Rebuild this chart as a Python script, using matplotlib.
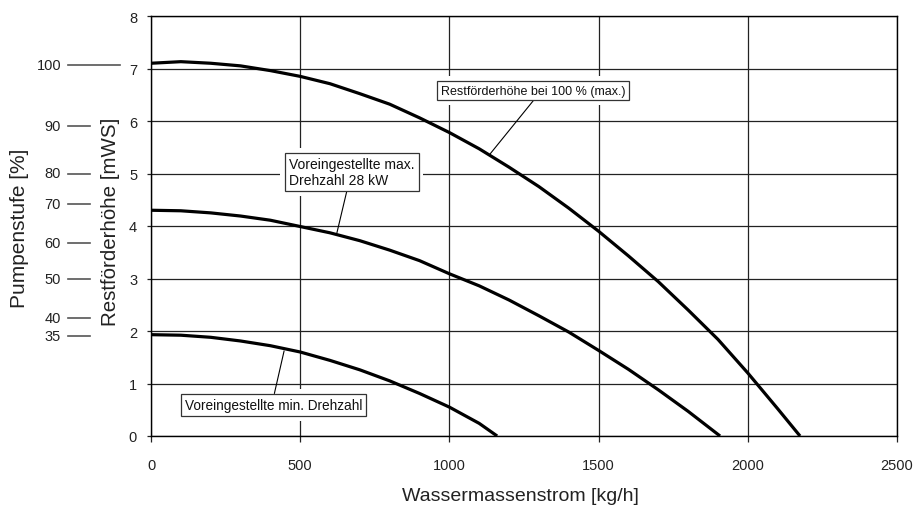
import matplotlib
matplotlib.use("Agg")
import matplotlib.pyplot as plt
import matplotlib.transforms as mtransforms

plt.rcParams['font.family'] = ['Liberation Sans', 'DejaVu Sans']

# Pumpenkennlinien (Wassermassenstrom kg/h, Restförderhöhe mWS)
q_max = [0, 100, 200, 300, 400, 500, 600, 700, 800, 900, 1000, 1100, 1200, 1300, 1400,
         1500, 1600, 1700, 1800, 1900, 2000, 2100, 2175]
h_max = [7.10, 7.13, 7.10, 7.05, 6.96, 6.85, 6.71, 6.52, 6.32, 6.06, 5.78, 5.47, 5.12, 4.75, 4.34,
         3.90, 3.43, 2.94, 2.40, 1.84, 1.20, 0.52, 0.00]

q_28 = [0, 100, 200, 300, 400, 500, 600, 700, 800, 900, 1000, 1100, 1200, 1300, 1400,
        1500, 1600, 1700, 1800, 1907]
h_28 = [4.30, 4.29, 4.25, 4.19, 4.11, 3.99, 3.87, 3.72, 3.54, 3.34, 3.09, 2.86, 2.59, 2.29, 1.98,
        1.63, 1.27, 0.88, 0.47, 0.00]

q_min = [0, 100, 200, 300, 400, 500, 600, 700, 800, 900, 1000, 1100, 1160]
h_min = [1.93, 1.92, 1.88, 1.81, 1.72, 1.60, 1.44, 1.26, 1.05, 0.81, 0.55, 0.24, 0.00]

# Pumpenstufe [%] und zugehoerige Hoehe auf der mWS-Achse
stufe = [100, 90, 80, 70, 60, 50, 40, 35]
stufe_h = [7.07, 5.91, 5.00, 4.42, 3.67, 2.99, 2.24, 1.90]

x_ticks = [0, 500, 1000, 1500, 2000, 2500]
y_ticks = [0, 1, 2, 3, 4, 5, 6, 7, 8]

W, H = 917, 510
fig = plt.figure(figsize=(W / 100, H / 100), dpi=100)
ax = fig.add_axes([151 / W, (H - 437) / H, (897 - 151) / W, (437 - 17) / H])

for q, h in [(q_max, h_max), (q_28, h_28), (q_min, h_min)]:
    ax.plot(q, h, color='black', lw=2.3, solid_capstyle='butt', solid_joinstyle='round', zorder=3)

ax.set_xlim(0, 2500)
ax.set_ylim(0, 8)
ax.set_xticks(x_ticks)
ax.set_yticks(y_ticks)
ax.grid(True, color='#222222', lw=0.9)
ax.set_axisbelow(True)
for s in ax.spines.values():
    s.set_color('black')
    s.set_linewidth(1.0)
ax.tick_params(axis='x', direction='out', length=4.5, width=0.9, pad=11, labelsize=10.5, colors='#222222')
ax.tick_params(axis='y', direction='out', length=3, width=0.9, pad=7, labelsize=10.5, colors='#222222')

fig.text(520 / W, (H - 497) / H, 'Wassermassenstrom [kg/h]', ha='center', va='center',
         fontsize=14, color='#222222')
fig.text(111 / W, (H - 222) / H, 'Restförderhöhe [mWS]', ha='center', va='center',
         rotation=90, fontsize=14.8, color='#222222')
fig.text(20 / W, (H - 228) / H, 'Pumpenstufe [%]', ha='center', va='center',
         rotation=90, fontsize=15, color='#222222')

# Pumpenstufe-Skala links
trans = mtransforms.blended_transform_factory(fig.transFigure, ax.transData)
for p, h in zip(stufe, stufe_h):
    x_end = 120 if p == 100 else 90
    ax.plot([68 / W, x_end / W], [h, h], color='#555555', lw=1.2, transform=trans, clip_on=False)
    ax.text(61 / W, h, str(p), transform=trans, ha='right', va='center', fontsize=10.5, color='#222222')

# Beschriftungen: Text, Position, Kurvenpunkt, Ansatz der Linie, Schriftgroesse, ha
labels = [
    ('Restförderhöhe bei 100 % (max.)', (1280, 6.58), (1136, 5.37), (0.52, 0), 9, 'center'),
    ('Voreingestellte max.\nDrehzahl 28 kW', (462, 5.03), (623, 3.87), (0.47, 0), 10, 'left'),
    ('Voreingestellte min. Drehzahl', (410, 0.59), (446, 1.62), (0.5, 1), 9.8, 'center'),
]
for txt, pos, tip, rel, fs, ha in labels:
    ax.text(pos[0], pos[1], txt, ha=ha, va='center', multialignment='left',
            fontsize=fs, color='white', zorder=4, linespacing=1.15,
            bbox=dict(boxstyle='square,pad=0.65', fc='white', ec='white', lw=0))
    ax.annotate(txt, xy=tip, xytext=pos, ha=ha, va='center', multialignment='left',
                fontsize=fs, color='#111111', zorder=5, linespacing=1.15,
                bbox=dict(boxstyle='square,pad=0.3', fc='white', ec='#333333', lw=0.9),
                arrowprops=dict(arrowstyle='-', lw=0.8, color='black', shrinkA=0, shrinkB=0,
                                relpos=rel))

fig.savefig('out.png', dpi=100)
